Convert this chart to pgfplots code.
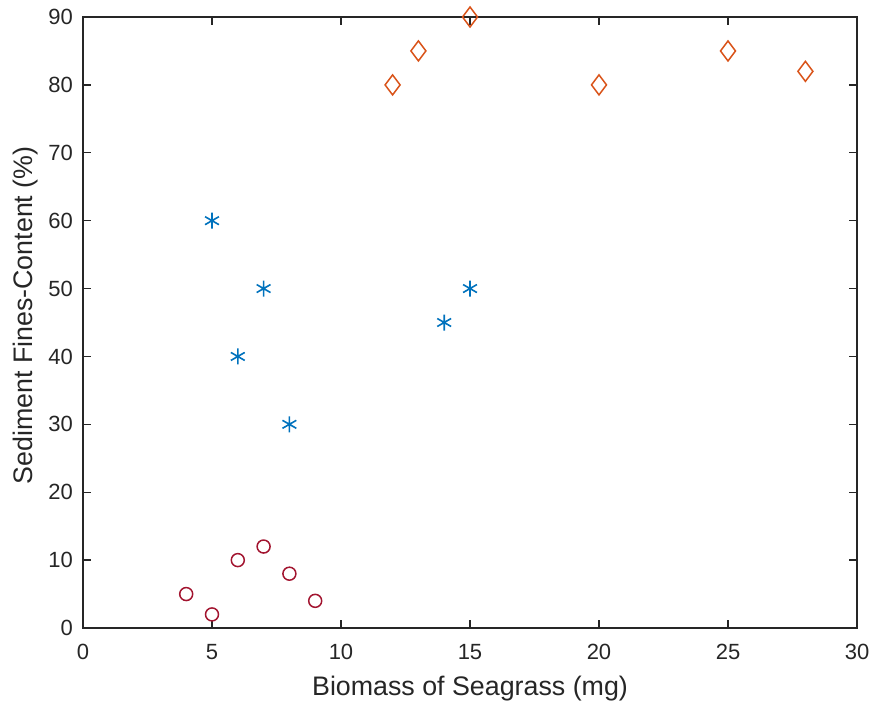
\documentclass[border=0pt]{standalone}
\usepackage{fontspec}
\setmainfont{Liberation Sans}
\usepackage{pgfplots}
\pgfplotsset{compat=1.18}
\definecolor{axcol}{HTML}{262626}
\definecolor{mblue}{HTML}{0072BD}
\definecolor{morange}{HTML}{D95319}
\definecolor{mred}{HTML}{A2142F}
\begin{document}
\begin{tikzpicture}
\useasboundingbox (-83bp,-79bp) rectangle (789bp,628bp);
\begin{axis}[
  scale only axis,
  width=774bp, height=611bp,
  xmin=0, xmax=30, ymin=0, ymax=90,
  xtick={0,5,...,30}, ytick={0,10,...,90},
  tick align=inside,
  major tick length=8bp,
  axis line style={axcol, line width=1.3bp},
  every tick/.style={axcol, line width=1.3bp},
  tick label style={font=\fontsize{22bp}{24bp}\selectfont, text=axcol},
  /pgf/number format/assume math mode=true,
  yticklabel style={inner sep=0pt, xshift=-10bp},
  xticklabel style={inner sep=0pt, yshift=-16bp},
  xlabel={Biomass of Seagrass (mg)},
  ylabel={Sediment Fines-Content (\%)},
  xlabel style={at={(axis description cs:0.5,-0.0998)}, anchor=center, font=\fontsize{26.8bp}{29bp}\selectfont, text=axcol},
  ylabel style={at={(axis description cs:-0.0745,0.5115)}, anchor=center, rotate=0, font=\fontsize{26.8bp}{29bp}\selectfont, text=axcol},
  clip=false,
]
\addplot[only marks, mark=o, mark size=6.5bp, mred, mark options={line width=1.5bp}]
  coordinates {(4,5) (5,2) (6,10) (7,12) (8,8) (9,4)};
\addplot[only marks, mark=asterisk, mark size=8bp, mblue, mark options={line width=1.6bp}]
  coordinates {(5,60) (6,40) (7,50) (8,30) (14,45) (15,50)};
\addplot[only marks, mark=diamond, mark size=10bp, morange, mark options={line width=1.5bp}]
  coordinates {(12,80) (13,85) (15,90) (20,80) (25,85) (28,82)};
\end{axis}
\end{tikzpicture}
\end{document}
